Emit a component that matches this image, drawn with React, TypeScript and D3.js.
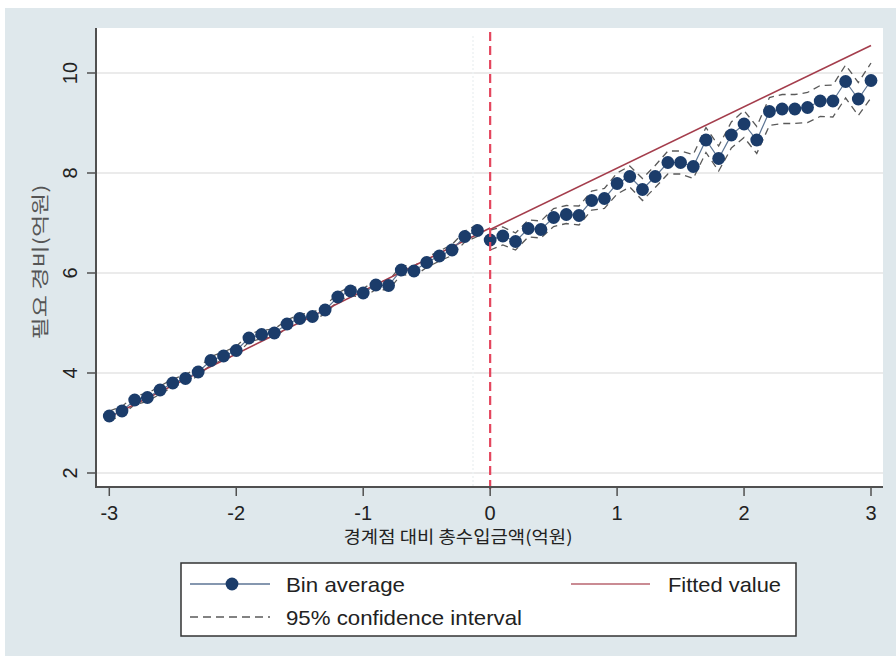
import React from "react";
import * as d3 from "d3";

// Bin centres (억원 relative to the threshold) and bin averages
const leftBins = [-3.0, -2.9, -2.8, -2.7, -2.6, -2.5, -2.4, -2.3, -2.2, -2.1, -2.0, -1.9, -1.8, -1.7, -1.6, -1.5, -1.4, -1.3, -1.2, -1.1, -1.0, -0.9, -0.8, -0.7, -0.6, -0.5, -0.4, -0.3, -0.2, -0.1];
const leftAvg = [3.14, 3.24, 3.46, 3.51, 3.66, 3.80, 3.89, 4.02, 4.25, 4.34, 4.45, 4.70, 4.77, 4.80, 4.98, 5.09, 5.13, 5.26, 5.52, 5.64, 5.60, 5.76, 5.75, 6.06, 6.04, 6.21, 6.34, 6.46, 6.73, 6.85];
const leftCI = [0.10, 0.09, 0.09, 0.08, 0.08, 0.08, 0.08, 0.08, 0.08, 0.08, 0.08, 0.08, 0.08, 0.08, 0.08, 0.08, 0.08, 0.08, 0.08, 0.09, 0.09, 0.09, 0.09, 0.09, 0.10, 0.10, 0.10, 0.11, 0.11, 0.12];

const rightBins = [0.0, 0.1, 0.2, 0.3, 0.4, 0.5, 0.6, 0.7, 0.8, 0.9, 1.0, 1.1, 1.2, 1.3, 1.4, 1.5, 1.6, 1.7, 1.8, 1.9, 2.0, 2.1, 2.2, 2.3, 2.4, 2.5, 2.6, 2.7, 2.8, 2.9, 3.0];
const rightAvg = [6.66, 6.74, 6.63, 6.89, 6.87, 7.11, 7.17, 7.15, 7.45, 7.49, 7.79, 7.93, 7.67, 7.93, 8.21, 8.21, 8.13, 8.66, 8.29, 8.76, 8.98, 8.66, 9.23, 9.28, 9.28, 9.31, 9.44, 9.44, 9.83, 9.48, 9.85];
const rightCI = [0.20, 0.18, 0.17, 0.17, 0.17, 0.18, 0.18, 0.19, 0.19, 0.20, 0.21, 0.21, 0.22, 0.22, 0.23, 0.23, 0.24, 0.25, 0.25, 0.26, 0.27, 0.27, 0.28, 0.29, 0.29, 0.30, 0.31, 0.32, 0.33, 0.33, 0.35];

// Fitted linear values at each side's end points
const fitLeftX = [-3, 0];
const fitLeftY = [3.12, 6.9];
const fitRightX = [0, 3];
const fitRightY = [6.87, 10.55];

const xTicks = [-3, -2, -1, 0, 1, 2, 3];
const yTicks = [2, 4, 6, 8, 10];

const xTitle = "경계점 대비 총수입금액(억원)";
const yTitle = "필요 경비(억원)";
const legendLabels = ["Bin average", "Fitted value", "95% confidence interval"];

const W = 896;
const H = 656;
const plot = { left: 97, right: 883, top: 28, bottom: 487 };

const NAVY = "#1b3c6a";
const CONNECT = "#5d7594";
const FIT = "#a43d4c";
const CI = "#5a5a5a";
const CUTOFF = "#e4465e";
const AXIS = "#505050";
const GRID = "#ebebeb";
const BG = "#dfe8ec";
const SANS = "'Liberation Sans', Arial, sans-serif";
const KR = "'Noto Sans CJK KR', 'Noto Sans', sans-serif";

export default function App() {
  const x = d3.scaleLinear().domain([-3, 3]).range([109.3, 871]);
  const y = d3.scaleLinear().domain([2, 10]).range([473, 73]);

  const line = d3
    .line<[number, number]>()
    .x((d) => x(d[0]))
    .y((d) => y(d[1]));

  const sides = [
    { bins: leftBins, avg: leftAvg, ci: leftCI },
    { bins: rightBins, avg: rightAvg, ci: rightCI },
  ];

  const fits = [
    { xs: fitLeftX, ys: fitLeftY },
    { xs: fitRightX, ys: fitRightY },
  ];

  const legendWidths = [119, 113, 236];

  return (
    <svg
      width={W}
      height={H}
      viewBox={`0 0 ${W} ${H}`}
      style={{ position: "absolute", left: 0, top: 0 }}
    >
      <rect x={0} y={0} width={W} height={H} fill="#ffffff" />
      <rect x={5} y={8} width={W - 5} height={H - 8} fill={BG} />
      <rect
        x={plot.left}
        y={plot.top}
        width={plot.right - plot.left}
        height={plot.bottom - plot.top}
        fill="#ffffff"
      />

      {/* horizontal grid */}
      {yTicks.map((t) => (
        <line
          key={`g${t}`}
          x1={plot.left}
          x2={plot.right}
          y1={y(t)}
          y2={y(t)}
          stroke={GRID}
          strokeWidth={2}
        />
      ))}

      {/* faint guide just left of the cutoff */}
      <line
        x1={473}
        x2={473}
        y1={plot.top + 8}
        y2={plot.bottom}
        stroke="#eef2f4"
        strokeWidth={1.5}
        strokeDasharray="2 2"
      />

      {/* confidence bands */}
      {sides.map((s, i) => (
        <g key={`ci${i}`} fill="none" stroke={CI} strokeWidth={1.3} strokeDasharray="7 5">
          <path d={line(s.bins.map((b, j) => [b, s.avg[j] + s.ci[j]] as [number, number])) || ""} />
          <path d={line(s.bins.map((b, j) => [b, s.avg[j] - s.ci[j]] as [number, number])) || ""} />
        </g>
      ))}

      {/* fitted values */}
      {fits.map((f, i) => (
        <path
          key={`fit${i}`}
          d={line(f.xs.map((v, j) => [v, f.ys[j]] as [number, number])) || ""}
          fill="none"
          stroke={FIT}
          strokeWidth={1.6}
        />
      ))}

      {/* bin averages */}
      {sides.map((s, i) => (
        <g key={`bin${i}`}>
          <path
            d={line(s.bins.map((b, j) => [b, s.avg[j]] as [number, number])) || ""}
            fill="none"
            stroke={CONNECT}
            strokeWidth={1.2}
          />
          {s.bins.map((b, j) => (
            <circle key={j} cx={x(b)} cy={y(s.avg[j])} r={6.4} fill={NAVY} />
          ))}
        </g>
      ))}

      {/* cutoff */}
      <line
        x1={x(0)}
        x2={x(0)}
        y1={plot.top + 4}
        y2={plot.bottom + 4}
        stroke={CUTOFF}
        strokeWidth={2.2}
        strokeDasharray="9 5"
      />

      {/* axes */}
      <line x1={plot.left - 1} x2={plot.left - 1} y1={plot.top} y2={plot.bottom + 1} stroke={AXIS} strokeWidth={2} />
      <line x1={plot.left - 2} x2={plot.right} y1={plot.bottom} y2={plot.bottom} stroke={AXIS} strokeWidth={2} />

      {yTicks.map((t) => (
        <g key={`yt${t}`}>
          <line x1={plot.left - 10} x2={plot.left - 1} y1={y(t)} y2={y(t)} stroke={AXIS} strokeWidth={1.5} />
          <text
            transform={`translate(${77},${y(t)}) rotate(-90)`}
            textAnchor="middle"
            fontFamily={SANS}
            fontSize={20}
            fill="#222"
          >
            {t}
          </text>
        </g>
      ))}

      {xTicks.map((t) => (
        <g key={`xt${t}`}>
          <line x1={x(t)} x2={x(t)} y1={plot.bottom} y2={plot.bottom + 9} stroke={AXIS} strokeWidth={1.5} />
          <text x={x(t)} y={520} textAnchor="middle" fontFamily={SANS} fontSize={20} fill="#222">
            {t}
          </text>
        </g>
      ))}

      <text
        x={458}
        y={543}
        textAnchor="middle"
        fontFamily={KR}
        fontSize={17}
        fill="#222"
        textLength={229}
        lengthAdjust="spacingAndGlyphs"
      >
        {xTitle}
      </text>
      <text
        transform={`translate(${47},${262}) rotate(-90)`}
        textAnchor="middle"
        fontFamily={KR}
        fontSize={18}
        fill="#555"
        textLength={155}
        lengthAdjust="spacingAndGlyphs"
      >
        {yTitle}
      </text>

      {/* legend */}
      <g>
        <rect x={181} y={563} width={615} height={73} fill="#ffffff" stroke="#333" strokeWidth={1.5} />
        <line x1={190} x2={270} y1={584} y2={584} stroke={CONNECT} strokeWidth={1.6} />
        <circle cx={232} cy={584} r={6.4} fill={NAVY} />
        <text x={286} y={592} fontFamily={SANS} fontSize={21} fill="#222" textLength={legendWidths[0]} lengthAdjust="spacingAndGlyphs">
          {legendLabels[0]}
        </text>
        <line x1={571} x2={650} y1={584} y2={584} stroke="#b8646f" strokeWidth={1.6} />
        <text x={668} y={592} fontFamily={SANS} fontSize={21} fill="#222" textLength={legendWidths[1]} lengthAdjust="spacingAndGlyphs">
          {legendLabels[1]}
        </text>
        <line x1={190} x2={270} y1={617} y2={617} stroke={CI} strokeWidth={1.3} strokeDasharray="8 5" />
        <text x={286} y={625} fontFamily={SANS} fontSize={21} fill="#222" textLength={legendWidths[2]} lengthAdjust="spacingAndGlyphs">
          {legendLabels[2]}
        </text>
      </g>
    </svg>
  );
}
